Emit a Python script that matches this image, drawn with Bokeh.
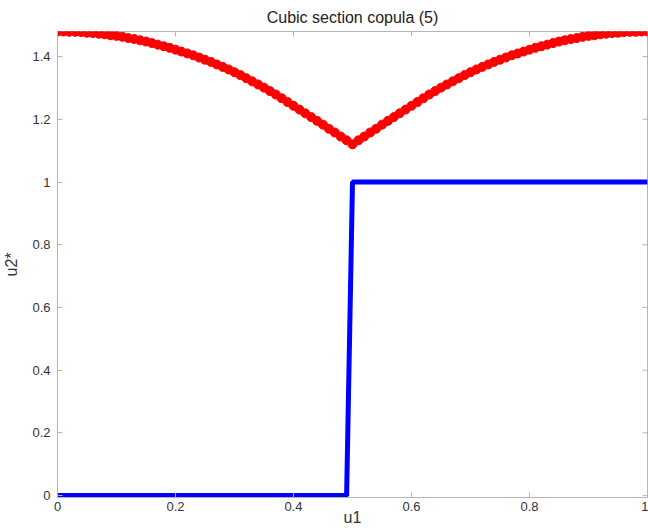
import numpy as np
from bokeh.plotting import figure
from bokeh.models import Range1d, FixedTicker
from bokeh.embed import file_html
from bokeh.resources import INLINE

# ---- data ----
u1_grid = [round(i * 0.01, 2) for i in range(101)]
u2_red = [
    1.480, 1.480, 1.479, 1.479, 1.478, 1.476, 1.475, 1.473, 1.471, 1.468,
    1.466, 1.463, 1.459, 1.456, 1.452, 1.448, 1.443, 1.438, 1.433, 1.428,
    1.422, 1.416, 1.410, 1.404, 1.397, 1.390, 1.383, 1.375, 1.367, 1.359,
    1.350, 1.341, 1.331, 1.321, 1.311, 1.301, 1.290, 1.279, 1.267, 1.255,
    1.243, 1.231, 1.219, 1.207, 1.195, 1.183, 1.170, 1.158, 1.145, 1.133,
    1.120,
    1.133, 1.145, 1.158, 1.170, 1.183, 1.195, 1.207, 1.219, 1.231, 1.243,
    1.255, 1.267, 1.279, 1.290, 1.301, 1.311, 1.321, 1.331, 1.341, 1.350,
    1.359, 1.367, 1.375, 1.383, 1.390, 1.397, 1.404, 1.410, 1.416, 1.422,
    1.428, 1.433, 1.438, 1.443, 1.448, 1.452, 1.456, 1.459, 1.463, 1.466,
    1.468, 1.471, 1.473, 1.475, 1.476, 1.478, 1.479, 1.479, 1.480, 1.480,
]
blue_x = [0.0, 0.49, 0.50, 1.0]
blue_y = [0.0, 0.0, 1.0, 1.0]

x_ticks = [0, 0.2, 0.4, 0.6, 0.8, 1]
x_tick_labels = ["0", "0.2", "0.4", "0.6", "0.8", "1"]
y_ticks = [0, 0.2, 0.4, 0.6, 0.8, 1, 1.2, 1.4]
y_tick_labels = ["0", "0.2", "0.4", "0.6", "0.8", "1", "1.2", "1.4"]

title_text = "Cubic section copula (5)"
x_label = "u1"
y_label = "u2*"

X0, X1 = 0.0, 1.0
Y0, Y1 = -0.006, 1.48

FONT = "Liberation Sans"
AX = "#b4b4b4"
TXT = "#333333"

p = figure(width=648, height=528, output_backend="svg", toolbar_location=None,
           x_range=Range1d(X0, X1), y_range=Range1d(Y0, Y1),
           min_border_left=0, min_border_right=1, min_border_top=0, min_border_bottom=0,
           title=title_text)
p.title.align = "center"
p.title.standoff = 12
p.title.text_font = FONT
p.title.text_font_size = "16px"
p.title.text_font_style = "normal"
p.title.text_color = "#222222"
p.xgrid.visible = False
p.ygrid.visible = False
p.outline_line_color = AX
p.background_fill_color = "white"
p.border_fill_color = "white"

def style_axis(ax, ticks, labels):
    ax.ticker = FixedTicker(ticks=ticks)
    ax.major_label_overrides = {t: l for t, l in zip(ticks, labels)}
    ax.minor_tick_line_color = None
    ax.major_tick_in = 5
    ax.major_tick_out = 0
    ax.major_tick_line_color = AX
    ax.axis_line_color = AX
    ax.major_label_text_font = FONT
    ax.major_label_text_color = TXT
    ax.major_label_text_font_size = "13px"
    ax.axis_label_text_font = FONT
    ax.axis_label_text_font_size = "16px"
    ax.axis_label_text_font_style = "normal"
    ax.axis_label_text_color = TXT

style_axis(p.xaxis[0], x_ticks, x_tick_labels)
style_axis(p.yaxis[0], y_ticks, y_tick_labels)
p.xaxis[0].axis_label = x_label
p.yaxis[0].axis_label = y_label
p.xaxis[0].major_label_standoff = 4
p.xaxis[0].axis_label_standoff = -5
p.yaxis[0].major_label_standoff = 7
p.yaxis[0].axis_label_standoff = 9

# mirrored tick marks on the top and right frame edges
tick_dy = (Y1 - Y0) * 5 / 465
tick_dx = (X1 - X0) * 5 / 590
p.segment(x0=x_ticks, y0=[Y1] * len(x_ticks), x1=x_ticks, y1=[Y1 - tick_dy] * len(x_ticks),
          line_color=AX, line_width=1)
p.segment(x0=[X1] * len(y_ticks), y0=y_ticks, x1=[X1 - tick_dx] * len(y_ticks), y1=y_ticks,
          line_color=AX, line_width=1)

p.line(blue_x, blue_y, line_color="#0000ff", line_width=5)
p.scatter(u1_grid, u2_red, size=9, fill_color="#ff0000", line_color="#ff0000")

open("out.html", "w").write(file_html(p, INLINE))
